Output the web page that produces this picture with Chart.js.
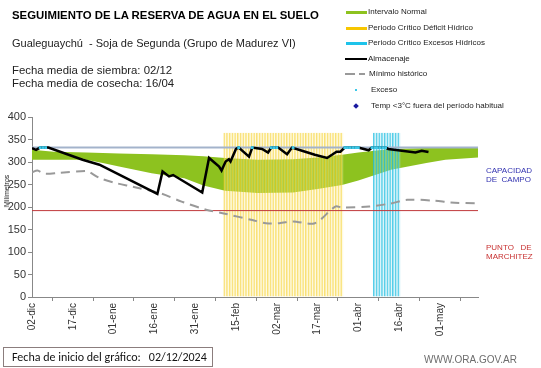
<!DOCTYPE html>
<html>
<head>
<meta charset="utf-8">
<script src="https://cdn.jsdelivr.net/npm/chart.js@4.4.1/dist/chart.umd.min.js"></script>
<style>
  body { margin: 0; background: #fff; font-family: "Liberation Sans", Arial, sans-serif; }
  #wrap { position: relative; width: 541px; height: 368px; overflow: hidden; }
  canvas { position: absolute; left: 0; top: 0; }
  .t { position: absolute; white-space: nowrap; color: #000; }
  .lg { position: absolute; left: 368px; font-size: 8px; color: #222; white-space: nowrap; line-height: 10px; }
  .sw { position: absolute; }
</style>
</head>
<body>
<div id="wrap">
  <canvas id="reservaChart" width="541" height="368"></canvas>

  <div class="t" style="left:12px; top:9px; font-size:11.4px; font-weight:bold;">SEGUIMIENTO DE LA RESERVA DE AGUA EN EL SUELO</div>
  <div class="t" style="left:12px; top:37px; font-size:11px; color:#222;">Gualeguaychú&nbsp; - Soja de Segunda (Grupo de Madurez VI)</div>
  <div class="t" style="left:12px; top:64px; font-size:11.4px; line-height:13px; color:#222;">Fecha media de siembra: 02/12<br>Fecha media de cosecha: 16/04</div>

  <!-- leyenda -->
  <div class="sw" style="left:346px; top:11px; width:21px; height:3px; background:#8dc21f;"></div>
  <div class="lg" style="top:7px;">Intervalo Normal</div>
  <div class="sw" style="left:346px; top:27px; width:21px; height:3px; background:#f7c600;"></div>
  <div class="lg" style="top:23px;">Periodo Crítico Déficit Hídrico</div>
  <div class="sw" style="left:346px; top:42px; width:21px; height:3px; background:#1ec3ea;"></div>
  <div class="lg" style="top:38px;">Periodo Crítico Excesos Hídricos</div>
  <div class="sw" style="left:345px; top:58px; width:22px; height:2px; background:#000;"></div>
  <div class="lg" style="top:54px;">Almacenaje</div>
  <div class="sw" style="left:345px; top:73px; width:10px; height:2px; background:#999;"></div>
  <div class="sw" style="left:359px; top:73px; width:6px; height:2px; background:#999;"></div>
  <div class="lg" style="top:69px; left:369px;">Mínimo histórico</div>
  <div class="sw" style="left:355px; top:89px; width:2px; height:2px; background:#3cc8e8;"></div>
  <div class="lg" style="top:85px; left:371px;">Exceso</div>
  <div class="sw" style="left:354px; top:104px; width:4px; height:4px; background:#1a1aa0; transform:rotate(45deg);"></div>
  <div class="lg" style="top:101px; left:371px;">Temp &lt;3°C fuera del período habitual</div>

  <div class="t" style="left:7px; top:191px; font-size:7px; line-height:8px; color:#222; transform:translate(-50%,-50%) rotate(-90deg);">Milímetros</div>

  <div class="t" style="left:486px; top:166px; font-size:8px; line-height:9px; color:#3232b0;">CAPACIDAD<br>DE&nbsp; CAMPO</div>
  <div class="t" style="left:486px; top:243px; font-size:8px; line-height:9px; color:#c83232;">PUNTO&nbsp;&nbsp; DE<br>MARCHITEZ</div>

  <div class="t" style="left:3px; top:347px; width:208px; height:18px; border:1px solid #8b7d7d;"></div>
  <div class="t" style="left:12px; top:350px; font-size:12px; font-family:Carlito, Lato, sans-serif; color:#111;">Fecha de inicio del gráfico:&nbsp;&nbsp; 02/12/2024</div>
  <div class="t" style="left:424px; top:354px; font-size:10px; color:#6d6d6d;">WWW.ORA.GOV.AR</div>
</div>

<script>
// eje x en días desde el 02-dic
const tickDays = [0, 15, 30, 45, 60, 75, 90, 105, 120, 135, 150];
const tickLabels = ["02-dic", "17-dic", "01-ene", "16-ene", "31-ene", "15-feb", "02-mar", "17-mar", "01-abr", "16-abr", "01-may"];
const lastDay = 164;

// intervalo normal (banda verde)
const bandDays  = [0, 8, 20, 26, 32, 44, 56, 63, 71, 83, 96, 105, 114, 120, 132, 145, 152, 164];
const bandUpper = [327, 323, 321, 320, 319, 317, 315, 313, 309, 305, 306, 310, 316, 321, 329, 331, 331, 331];
const bandLower = [305, 305, 305, 298, 290, 275, 264, 248, 236, 231, 232, 240, 249, 259, 283, 298, 305, 310];

// almacenaje
const almDays = [0, 1.5, 3, 6, 18.6, 24.8, 46.1, 48, 50.4, 51.9, 62.6, 65.1, 68.8, 69.7, 71.2, 72.4, 73, 75, 76, 79.8, 81, 84.6, 86.8, 88, 90.5, 93.8, 95.6, 99.3, 104, 108.5, 110.3, 112, 113.4, 115, 120, 123.8, 125, 130, 131, 141, 143.3, 145.8];
const almVals = [331, 327, 332, 332, 305, 294, 229, 279, 268, 271, 232, 309, 290, 281, 301, 306, 301, 329, 332, 312, 332, 329, 321, 332, 332, 317, 332, 325, 316, 309, 316, 323, 323, 332, 332, 326, 332, 332, 329, 321, 325, 322];

// mínimo histórico
const minDays = [0, 2, 4.6, 10, 19.9, 21, 25, 31, 37, 47, 55, 64, 71, 81, 86, 91, 96, 104, 111.5, 114, 124, 132, 138, 148, 154, 164];
const minVals = [277, 281, 274, 276, 280, 278, 264, 253, 245, 231, 212, 194, 185, 171, 164, 164, 168, 164, 201, 199, 201, 208, 216, 214, 210, 208];

// días con exceso
const excesoDays = [3, 4, 5, 76, 81, 88, 89, 90, 96, 115, 116, 117, 118, 119, 120, 125, 126, 127, 128, 129, 130];
const capCampo = 332;
const puntoMarchitez = 192;

// periodos críticos
const deficitDays = [];
for (let d = 71; d <= 114; d++) deficitDays.push(d);
const excesoCritDays = [];
for (let d = 126; d <= 135; d++) excesoCritDays.push(d);
const critTop = 365;

const pts = (xs, ys) => xs.map((x, i) => ({ x: x, y: ys[i] }));

const ctx = document.getElementById("reservaChart").getContext("2d");
new Chart(ctx, {
    type: "line",
    data: {
        datasets: [
            {
                label: "Intervalo Normal sup",
                data: pts(bandDays, bandUpper),
                borderWidth: 0,
                pointRadius: 0,
                fill: "+1",
                backgroundColor: "#8dc21f",
                order: 20,
            },
            {
                label: "Intervalo Normal inf",
                data: pts(bandDays, bandLower),
                borderWidth: 0,
                pointRadius: 0,
                fill: false,
                order: 21,
            },
            {
                type: "bar",
                label: "Periodo Crítico Déficit Hídrico",
                data: deficitDays.map(d => ({ x: d, y: critTop })),
                backgroundColor: "rgba(253,242,175,0.35)",
                borderColor: "rgba(245,205,30,0.6)",
                borderWidth: { left: 1, right: 0, top: 0, bottom: 0 },
                borderSkipped: false,
                barPercentage: 1,
                categoryPercentage: 1,
                grouped: false,
                order: 10,
            },
            {
                type: "bar",
                label: "Periodo Crítico Excesos Hídricos",
                data: excesoCritDays.map(d => ({ x: d, y: critTop })),
                backgroundColor: "rgba(170,230,242,0.35)",
                borderColor: "rgba(30,190,225,0.75)",
                borderWidth: { left: 1, right: 0, top: 0, bottom: 0 },
                borderSkipped: false,
                barPercentage: 1,
                categoryPercentage: 1,
                grouped: false,
                order: 10,
            },
            {
                label: "Capacidad de campo",
                data: [{ x: 0, y: capCampo }, { x: lastDay, y: capCampo }],
                borderColor: "#a3b3cb",
                borderWidth: 2,
                pointRadius: 0,
                order: 6,
            },
            {
                label: "Punto de marchitez",
                data: [{ x: 0, y: puntoMarchitez }, { x: lastDay, y: puntoMarchitez }],
                borderColor: "#c0393b",
                borderWidth: 1,
                pointRadius: 0,
                order: 5,
            },
            {
                label: "Mínimo histórico",
                data: pts(minDays, minVals),
                borderColor: "#999999",
                borderWidth: 2,
                borderDash: [9, 6],
                pointRadius: 0,
                tension: 0.3,
                order: 4,
            },
            {
                label: "Almacenaje",
                data: pts(almDays, almVals),
                borderColor: "#000000",
                borderWidth: 2.5,
                pointRadius: 0,
                order: 2,
            },
            {
                label: "Exceso",
                data: excesoDays.map(d => ({ x: d, y: capCampo })),
                showLine: false,
                pointStyle: "rect",
                pointRadius: 2,
                pointBackgroundColor: "#3cc8e8",
                pointBorderWidth: 0,
                order: 1,
            },
        ],
    },
    options: {
        responsive: false,
        animation: false,
        layout: { padding: { left: 0, top: 117, right: 63, bottom: 0 } },
        plugins: {
            legend: { display: false },
            tooltip: { enabled: false },
        },
        scales: {
            x: {
                type: "linear",
                min: 0,
                max: lastDay,
                offset: false,
                afterFit: scale => { scale.height = 71; },
                afterBuildTicks: scale => { scale.ticks = tickDays.map(v => ({ value: v })); },
                grid: { drawOnChartArea: false, drawTicks: true, tickLength: 4, color: "#888" },
                border: { color: "#888", width: 1 },
                ticks: {
                    autoSkip: false,
                    maxRotation: 90,
                    minRotation: 90,
                    padding: 2,
                    color: "#333",
                    font: { family: "Liberation Sans", size: 10 },
                    callback: value => tickLabels[tickDays.indexOf(value)],
                },
            },
            y: {
                min: 0,
                max: 400,
                afterFit: scale => { scale.width = 32; },
                grid: { drawOnChartArea: false, drawTicks: true, tickLength: 4, color: "#888" },
                border: { color: "#888", width: 1 },
                ticks: {
                    stepSize: 50,
                    padding: 2,
                    color: "#333",
                    font: { family: "Liberation Sans", size: 11 },
                },
            },
        },
    },
});
</script>
</body>
</html>
